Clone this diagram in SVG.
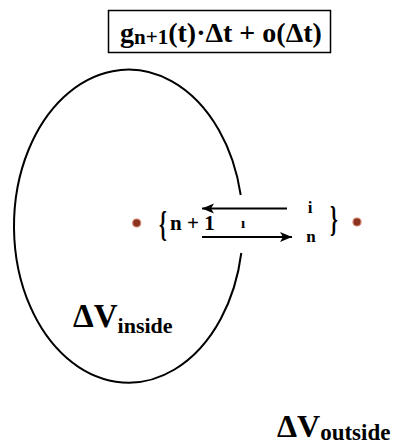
<svg xmlns="http://www.w3.org/2000/svg" width="397" height="444" viewBox="0 0 397 444">
<style>
.t{font-family:"Liberation Serif","Times New Roman",serif;font-weight:bold;fill:#000}
.ln{stroke:#000;stroke-width:2;fill:none}
.dot{fill:#8a3320;stroke:#d0806a;stroke-width:1.2}
</style>
<defs>
<marker id="ah" markerUnits="userSpaceOnUse" markerWidth="14" markerHeight="12" refX="12" refY="6" orient="auto">
<path d="M12 6 L0 1 L3 6 L0 11 Z" fill="#000"/>
</marker>
</defs>
<rect width="397" height="444" fill="#fff"/>
<g id="title">
<rect x="108.5" y="10.5" width="222" height="42" fill="none" stroke="#000" stroke-width="1.5"/>
<text class="t" x="120" y="42" font-size="28">g<tspan font-size="21" dy="2">n+1</tspan><tspan dy="-2">(t)·Δt + o(Δt)</tspan></text>
</g>
<g id="volume-inside">
<path class="ln" stroke-width="2.5" d="M240.7 195 A114.5 156.5 0 1 0 241.3 253"/>
<text class="t" x="73" y="327" font-size="33">ΔV<tspan font-size="22" dy="6">inside</tspan></text>
</g>
<g id="volume-outside">
<text class="t" x="277" y="437" font-size="32">ΔV<tspan font-size="23" dy="2.5">outside</tspan></text>
</g>
<g id="left-state">
<circle class="dot" cx="136.7" cy="223" r="4"/>
<text class="t" font-size="36" font-weight="normal" transform="translate(159 236) scale(0.55 1)" x="0" y="0">{</text>
<text class="t" x="170" y="230" font-size="21">n + 1</text>
<text class="t" x="243" y="228" font-size="15" text-anchor="middle">ı</text>
</g>
<g id="right-state">
<text class="t" x="310" y="213" font-size="17" text-anchor="middle">i</text>
<text class="t" x="311" y="242" font-size="17" text-anchor="middle">n</text>
<text class="t" font-size="36" font-weight="normal" transform="translate(330 231) scale(0.55 1)" x="0" y="0">}</text>
<circle class="dot" cx="357" cy="222" r="4"/>
</g>
<g id="connectors">
<line class="ln" x1="287" y1="208.5" x2="202" y2="208.5" marker-end="url(#ah)"/>
<line class="ln" x1="202" y1="237" x2="292" y2="237" marker-end="url(#ah)"/>
</g>
</svg>
